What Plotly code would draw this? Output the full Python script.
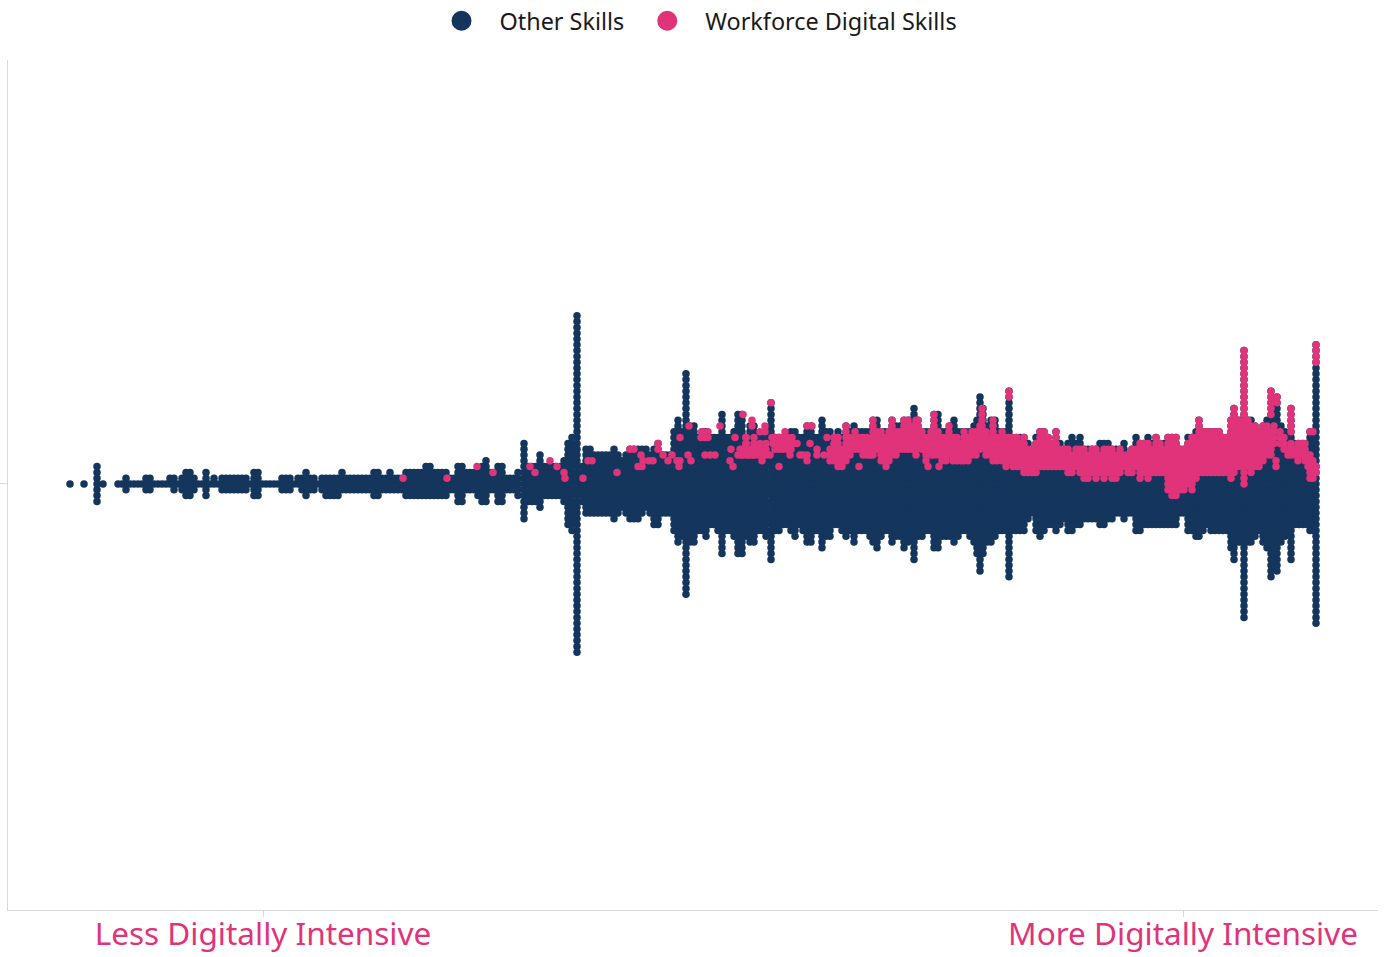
import plotly.graph_objects as go

NAVY = "#14365d"
PINK = "#e0337a"
GREY = "#d9d9d9"

TICK_VALUES = [263, 1183]
TICK_LABELS = ["Less Digitally Intensive", "More Digitally Intensive"]
SERIES_NAMES = ["Other Skills", "Workforce Digital Skills"]

# Stacked dot columns of "Other Skills": intensity position, dots above and below the centre row
OTHER_X = [
    70, 84, 97, 103,
    118, 122, 126, 130, 134, 138, 142, 146, 150, 154,
    158, 162, 166, 170, 174, 178, 182, 186, 190, 194,
    198, 202, 206, 210, 214, 218, 222, 226, 230, 234,
    238, 242, 246, 250, 254, 258, 262, 266, 270, 274,
    278, 282, 286, 290, 294, 298, 302, 306, 310, 314,
    318, 322, 326, 330, 334, 338, 342, 346, 350, 354,
    358, 362, 366, 370, 374, 378, 382, 386, 390, 394,
    398, 402, 406, 410, 414, 418, 422, 426, 430, 434,
    438, 442, 446, 450, 454, 458, 462, 466, 470, 474,
    478, 482, 486, 490, 494, 498, 502, 506, 510, 514,
    518, 524, 528, 532, 536, 540, 544, 548, 552, 556,
    560, 564, 568, 572, 577, 582, 586, 590, 594, 598,
    602, 606, 610, 614, 618, 622, 626, 630, 634, 638,
    642, 646, 650, 654, 658, 662, 666, 670, 674, 678,
    682, 686, 690, 694, 698, 702, 706, 710, 714, 718,
    722, 726, 730, 734, 738, 742, 746, 750, 754, 758,
    762, 766, 771, 775, 779, 783, 787, 791, 795, 799,
    803, 807, 811, 815, 818, 822, 826, 830, 834, 838,
    842, 846, 850, 854, 858, 862, 866, 870, 873, 877,
    881, 885, 889, 892, 896, 900, 904, 908, 911, 914,
    918, 922, 926, 930, 934, 938, 942, 946, 950, 954,
    958, 962, 966, 970, 974, 977, 980, 983, 987, 991,
    995, 999, 1002, 1006, 1009, 1012, 1016, 1020, 1024, 1028,
    1032, 1036, 1040, 1044, 1048, 1052, 1056, 1060, 1064, 1068,
    1072, 1076, 1080, 1084, 1088, 1092, 1096, 1100, 1104, 1108,
    1112, 1116, 1120, 1124, 1128, 1132, 1136, 1140, 1144, 1148,
    1152, 1156, 1160, 1164, 1168, 1172, 1176, 1180, 1184, 1188,
    1192, 1196, 1199, 1203, 1207, 1211, 1215, 1219, 1223, 1227,
    1231, 1234, 1238, 1241, 1244, 1248, 1251, 1255, 1259, 1263,
    1267, 1271, 1274, 1277, 1281, 1285, 1288, 1291, 1295, 1299,
    1303, 1307, 1310, 1313, 1316,
]
OTHER_UP = [
    0, 0, 3, 0,
    0, 0, 1, 0, 0, 0, 0, 1, 1, 0,
    0, 0, 0, 1, 1, 0, 1, 2, 2, 1,
    0, 0, 2, 0, 1, 0, 1, 1, 1, 1,
    1, 1, 1, 0, 2, 2, 0, 0, 0, 0,
    0, 1, 1, 1, 0, 1, 1, 2, 1, 1,
    0, 1, 1, 1, 1, 1, 2, 1, 1, 1,
    1, 1, 1, 1, 2, 2, 1, 1, 2, 1,
    1, 1, 2, 2, 2, 2, 2, 3, 3, 2,
    2, 2, 2, 1, 1, 3, 3, 2, 2, 2,
    2, 3, 4, 2, 2, 3, 3, 1, 1, 1,
    2, 7, 3, 3, 3, 5, 3, 3, 3, 3,
    3, 4, 7, 8, 29, 3, 6, 6, 5, 5,
    5, 5, 5, 6, 5, 4, 5, 6, 6, 6,
    6, 6, 5, 6, 7, 5, 5, 5, 9, 11,
    9, 19, 10, 10, 8, 9, 9, 8, 8, 8,
    12, 8, 8, 9, 12, 12, 8, 10, 10, 8,
    8, 9, 14, 8, 8, 8, 8, 9, 9, 8,
    8, 10, 10, 8, 8, 11, 9, 9, 8, 9,
    8, 10, 9, 10, 9, 9, 9, 9, 11, 11,
    9, 9, 9, 11, 10, 10, 11, 11, 11, 13,
    11, 9, 9, 9, 12, 12, 9, 9, 10, 11,
    9, 9, 9, 9, 10, 11, 15, 13, 10, 11,
    11, 9, 9, 9, 16, 8, 8, 8, 8, 7,
    6, 8, 9, 9, 8, 7, 9, 7, 6, 7,
    8, 7, 8, 6, 6, 6, 6, 7, 7, 7,
    6, 6, 6, 7, 5, 6, 8, 7, 7, 8,
    7, 8, 7, 7, 8, 8, 8, 6, 6, 8,
    8, 9, 11, 9, 9, 9, 9, 9, 8, 8,
    11, 13, 11, 11, 23, 11, 11, 10, 9, 10,
    11, 16, 14, 15, 10, 9, 8, 13, 7, 7,
    7, 7, 9, 9, 24,
]
OTHER_DOWN = [
    0, 0, 3, 0,
    0, 0, 1, 0, 0, 0, 0, 1, 1, 0,
    0, 0, 0, 0, 1, 0, 1, 2, 2, 1,
    0, 0, 2, 0, 0, 0, 1, 1, 1, 1,
    1, 1, 1, 0, 2, 2, 0, 0, 0, 0,
    0, 1, 1, 1, 0, 0, 1, 2, 1, 1,
    0, 1, 2, 2, 2, 2, 1, 1, 1, 1,
    1, 1, 1, 1, 2, 2, 1, 1, 1, 1,
    1, 1, 2, 2, 2, 2, 2, 2, 2, 2,
    2, 2, 2, 1, 1, 3, 3, 1, 1, 1,
    2, 3, 3, 1, 1, 3, 3, 1, 1, 1,
    2, 6, 3, 3, 3, 4, 2, 2, 2, 2,
    2, 3, 7, 8, 29, 3, 5, 5, 5, 5,
    5, 5, 5, 6, 5, 4, 5, 6, 6, 6,
    5, 4, 5, 7, 7, 5, 5, 5, 8, 10,
    9, 19, 10, 10, 8, 8, 9, 7, 7, 8,
    12, 8, 8, 9, 12, 12, 9, 10, 10, 8,
    8, 9, 13, 8, 8, 7, 7, 8, 9, 7,
    8, 10, 10, 8, 8, 11, 9, 9, 7, 7,
    8, 9, 8, 10, 8, 8, 8, 9, 10, 11,
    9, 8, 8, 10, 9, 9, 11, 10, 9, 13,
    9, 9, 8, 8, 11, 11, 9, 9, 9, 10,
    9, 8, 8, 9, 10, 12, 15, 12, 10, 10,
    9, 8, 8, 8, 16, 8, 8, 8, 8, 6,
    5, 8, 9, 8, 7, 7, 8, 7, 6, 8,
    8, 7, 7, 6, 6, 6, 6, 7, 7, 6,
    6, 5, 5, 6, 5, 5, 8, 8, 7, 7,
    7, 7, 7, 7, 7, 7, 7, 5, 5, 8,
    8, 9, 9, 8, 7, 8, 8, 8, 8, 8,
    11, 13, 10, 10, 23, 10, 10, 9, 8, 10,
    11, 16, 14, 15, 10, 9, 8, 13, 7, 7,
    7, 7, 8, 8, 24,
]

# "Workforce Digital Skills" dots: intensity position and the lowest and highest row occupied
PINK_X = [
    403, 447, 477, 493, 530, 535, 550, 557, 564, 565, 583, 588, 592, 617, 630, 634, 638, 641, 642, 643,
    649, 653, 658, 663, 668, 672, 677, 679, 680, 680, 688, 691, 689, 702, 708, 701, 705, 708, 705, 710,
    715, 720, 731, 730, 733, 735, 743, 740, 746, 742, 748, 746, 752, 753, 760, 765, 760, 757, 762, 771,
    779, 772, 777, 773, 782, 785, 790, 792, 797, 793, 800,
    738, 742, 746, 750, 754, 758, 762, 766, 770, 775, 779, 783, 787, 791,
    803, 807, 807, 812, 810, 817, 824, 827, 830, 834, 838, 842, 846, 850, 855, 859, 859, 863, 867, 870,
    873, 877, 881, 885, 886, 889, 892, 896, 900, 904, 908, 912, 916, 918, 922, 926, 928, 931, 934, 938,
    939, 942, 946, 949, 953, 957, 961, 964, 968, 972, 976, 980, 982, 986, 990, 993, 997, 1002, 1006, 1009,
    1009, 1013, 1017, 1020, 1024, 1028, 1032, 1036, 1040, 1044, 1048, 1052, 1056, 1060, 1064, 1068, 1072,
    1076, 1080, 1084, 1088, 1092, 1096, 1100, 1104, 1108, 1112, 1116, 1120, 1124, 1128, 1132, 1136, 1140,
    1144, 1148, 1152, 1156, 1160, 1164, 1168, 1172, 1176, 1180, 1184, 1188, 1192, 1196, 1199, 1203, 1207,
    1211, 1215, 1219, 1223, 1227, 1231, 1234, 1238, 1241, 1244, 1248, 1251, 1255, 1259, 1263, 1267, 1271,
    1271, 1274, 1277, 1280, 1276, 1284, 1288, 1291, 1291, 1295, 1298, 1302, 1305, 1308, 1310, 1310, 1313,
    1313, 1316, 1316,
]
PINK_LOW = [
    1, 1, 3, 2, 3, 2, 4, 3, 2, 1, 1, 4, 4, 2, 6, 6, 3, 5, 3, 4,
    4, 4, 6, 5, 4, 5, 4, 3, 4, 8, 5, 4, 10, 9, 9, 8, 8, 8, 5, 5,
    5, 10, 6, 4, 3, 8, 12, 6, 8, 5, 5, 7, 10, 5, 9, 9, 7, 6, 4, 14,
    3, 8, 8, 7, 8, 9, 5, 8, 7, 7, 5,
    5, 5, 5, 5, 5, 5, 5, 5, 5, 6, 6, 6, 6, 6,
    5, 4, 10, 10, 7, 5, 5, 8, 4, 4, 3, 3, 4, 5, 6, 3, 6, 5, 5, 5,
    5, 6, 4, 4, 3, 4, 5, 5, 6, 6, 6, 6, 5, 7, 6, 4, 3, 5, 5, 5,
    3, 4, 4, 5, 4, 4, 4, 4, 4, 5, 5, 6, 7, 5, 5, 4, 4, 4, 3, 15,
    4, 3, 3, 3, 2, 2, 2, 2, 3, 3, 3, 3, 3, 3, 3, 2, 2,
    3, 2, 1, 1, 2, 1, 2, 1, 2, 1, 1, 2, 3, 2, 2, 3, 1,
    2, 1, 2, 2, 2, 2, -1, -2, -2, -1, -1, 0, -1, 1, 2, 2, 2,
    2, 2, 2, 2, 2, 1, 2, 3, 3, 0, 3, 2, 3, 3, 4, 5, 5,
    12, 7, 14, 7, 3, 6, 5, 5, 9, 5, 4, 5, 4, 3, 1, 9, 1,
    9, 21, 2,
]
PINK_HIGH = [
    1, 1, 3, 2, 3, 2, 4, 3, 2, 1, 1, 4, 4, 2, 6, 6, 3, 5, 3, 4,
    4, 4, 7, 5, 4, 5, 4, 3, 4, 8, 5, 4, 10, 9, 9, 8, 8, 8, 5, 5,
    5, 10, 6, 4, 3, 8, 12, 6, 8, 5, 5, 7, 11, 5, 9, 10, 7, 6, 4, 14,
    3, 8, 8, 7, 8, 9, 5, 8, 7, 7, 5,
    5, 6, 8, 6, 8, 5, 6, 7, 5, 8, 8, 8, 8, 7,
    5, 5, 10, 10, 7, 6, 5, 8, 6, 8, 8, 6, 10, 8, 9, 3, 8, 8, 8, 7,
    11, 9, 9, 8, 3, 9, 11, 9, 9, 11, 11, 10, 11, 11, 9, 8, 3, 9, 12, 9,
    3, 8, 8, 10, 8, 8, 7, 9, 8, 9, 9, 10, 13, 9, 8, 11, 8, 9, 8, 16,
    8, 8, 8, 7, 8, 6, 6, 7, 9, 9, 8, 7, 9, 6, 6, 6, 5,
    6, 6, 6, 5, 6, 6, 5, 6, 6, 6, 5, 6, 5, 5, 6, 6, 7,
    7, 7, 6, 8, 7, 6, 8, 8, 8, 6, 6, 7, 8, 8, 11, 9, 9,
    9, 9, 9, 8, 8, 11, 13, 11, 10, 23, 11, 10, 10, 9, 10, 10, 9,
    16, 10, 15, 9, 4, 8, 6, 7, 13, 6, 7, 7, 7, 5, 5, 9, 4,
    9, 24, 3,
]

assert len(OTHER_X) == len(OTHER_UP) == len(OTHER_DOWN)
assert len(PINK_X) == len(PINK_LOW) == len(PINK_HIGH)

other_x, other_y = [], []
for x, up, down in zip(OTHER_X, OTHER_UP, OTHER_DOWN):
    for row in range(-down, up + 1):
        other_x.append(x)
        other_y.append(row)

pink_x, pink_y = [], []
for x, low, high in zip(PINK_X, PINK_LOW, PINK_HIGH):
    for row in range(low, high + 1):
        pink_x.append(x)
        pink_y.append(row)

fig = go.Figure()
fig.add_trace(go.Scatter(x=other_x, y=other_y, mode="markers", showlegend=False, hoverinfo="skip",
                         marker=dict(color=NAVY, size=7.5, line=dict(width=0))))
fig.add_trace(go.Scatter(x=pink_x, y=pink_y, mode="markers", showlegend=False, hoverinfo="skip",
                         marker=dict(color=PINK, size=7.5, line=dict(width=0))))
for name, color in zip(SERIES_NAMES, [NAVY, PINK]):
    fig.add_trace(go.Scatter(x=[None], y=[None], mode="markers", name=name,
                             marker=dict(color=color, size=16, line=dict(color=color, width=4))))

fig.update_layout(
    width=1387, height=957,
    margin=dict(l=8, r=9, t=60, b=47, autoexpand=False),
    paper_bgcolor="white", plot_bgcolor="white",
    font=dict(family="Noto Sans", color="#222222"),
    legend=dict(orientation="h", x=0.5, xanchor="center", y=1.02, yanchor="bottom",
                xref="paper", yref="paper", font=dict(size=23.4, color="#1a1a1a"),
                itemsizing="trace", itemwidth=66, bgcolor="rgba(0,0,0,0)"),
    xaxis=dict(range=[8, 1378], tickmode="array", tickvals=TICK_VALUES, ticktext=TICK_LABELS,
               ticks="outside", ticklen=6, tickcolor=GREY, tickwidth=1, showline=True,
               linecolor=GREY, linewidth=1, showgrid=False, zeroline=False, ticklabelstandoff=-10,
               tickfont=dict(size=31.5, color=PINK, family="Noto Sans")),
    yaxis=dict(range=[-73.45, 73.1], tickmode="array", tickvals=[0], ticktext=[""],
               ticks="outside", ticklen=8, tickcolor=GREY, tickwidth=1, showline=True,
               linecolor=GREY, linewidth=1, showgrid=False, zeroline=False),
)

fig.write_html("out.html", config=dict(displayModeBar=False),
               post_script="document.body.style.margin='0';")
